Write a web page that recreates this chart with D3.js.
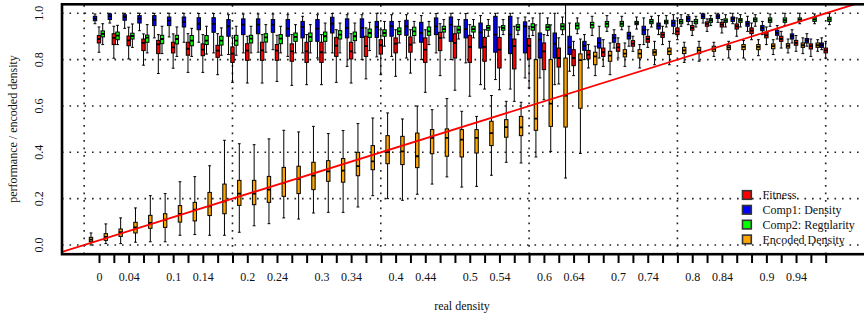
<!DOCTYPE html>
<html>
<head>
<meta charset="utf-8">
<script src="https://cdn.jsdelivr.net/npm/d3@7"></script>
<style>
body { margin: 0; background: #fff; }
svg text { font-family: "Liberation Serif", "Times New Roman", serif; font-size: 12px; fill: #111; }
</style>
</head>
<body>
<div id="chart"></div>
<script>
// real densities, one group of four boxes per value
var densities = [0, 0.02, 0.04, 0.06, 0.08, 0.1, 0.12, 0.14, 0.16, 0.18,
    0.2, 0.22, 0.24, 0.26, 0.28, 0.3, 0.32, 0.34, 0.36, 0.38,
    0.4, 0.42, 0.44, 0.46, 0.48, 0.5, 0.52, 0.54, 0.56, 0.58,
    0.6, 0.62, 0.64, 0.66, 0.68, 0.7, 0.72, 0.74, 0.76, 0.78,
    0.8, 0.82, 0.84, 0.86, 0.88, 0.9, 0.92, 0.94, 0.96, 0.98];

var xTickLabels = ["0", "0.04", "0.1", "0.14", "0.2", "0.24", "0.3", "0.34", "0.4", "0.44",
    "0.5", "0.54", "0.6", "0.64", "0.7", "0.74", "0.8", "0.84", "0.9", "0.94"];
var yTickValues = [0, 0.2, 0.4, 0.6, 0.8, 1.0];
var gridDensities = [-0.02, 0.18, 0.38, 0.58, 0.78, 0.98];

// each entry: [lower whisker, q1, median, q3, upper whisker]
var fitness = [
    [0.832, 0.872, 0.889, 0.904, 0.941], [0.806, 0.865, 0.894, 0.912, 0.944], [0.803, 0.860, 0.883, 0.902, 0.940],
    [0.776, 0.839, 0.872, 0.889, 0.911], [0.740, 0.826, 0.866, 0.883, 0.908], [0.763, 0.829, 0.853, 0.875, 0.911],
    [0.745, 0.819, 0.847, 0.875, 0.912], [0.745, 0.817, 0.843, 0.868, 0.908], [0.735, 0.810, 0.839, 0.862, 0.912],
    [0.702, 0.788, 0.826, 0.855, 0.894], [0.699, 0.797, 0.839, 0.869, 0.901], [0.699, 0.797, 0.840, 0.875, 0.908],
    [0.706, 0.797, 0.839, 0.865, 0.905], [0.689, 0.793, 0.836, 0.868, 0.908], [0.692, 0.788, 0.836, 0.875, 0.908],
    [0.692, 0.788, 0.832, 0.875, 0.908], [0.702, 0.814, 0.860, 0.896, 0.929], [0.699, 0.803, 0.836, 0.875, 0.912],
    [0.717, 0.814, 0.858, 0.901, 0.937], [0.735, 0.824, 0.862, 0.886, 0.929], [0.728, 0.829, 0.869, 0.894, 0.929],
    [0.742, 0.832, 0.865, 0.898, 0.929], [0.659, 0.788, 0.843, 0.894, 0.929], [0.731, 0.839, 0.894, 0.918, 0.955],
    [0.668, 0.807, 0.872, 0.912, 0.944], [0.642, 0.788, 0.855, 0.905, 0.951], [0.673, 0.793, 0.855, 0.896, 0.929],
    [0.670, 0.764, 0.843, 0.896, 0.941], [0.620, 0.760, 0.858, 0.889, 0.944], [0.678, 0.803, 0.860, 0.891, 0.944],
    [0.627, 0.757, 0.836, 0.872, 0.908], [0.695, 0.768, 0.807, 0.850, 0.894], [0.731, 0.774, 0.807, 0.843, 0.879],
    [0.764, 0.803, 0.822, 0.840, 0.865], [0.771, 0.814, 0.832, 0.850, 0.886], [0.807, 0.836, 0.853, 0.869, 0.894],
    [0.836, 0.858, 0.869, 0.882, 0.901], [0.853, 0.875, 0.889, 0.901, 0.929], [0.865, 0.896, 0.908, 0.918, 0.944],
    [0.886, 0.908, 0.922, 0.937, 0.980], [0.904, 0.927, 0.937, 0.947, 0.965], [0.922, 0.944, 0.954, 0.963, 0.976],
    [0.915, 0.941, 0.951, 0.961, 0.973], [0.901, 0.932, 0.944, 0.954, 0.980], [0.886, 0.912, 0.925, 0.937, 0.958],
    [0.865, 0.894, 0.905, 0.918, 0.941], [0.850, 0.879, 0.889, 0.901, 0.922], [0.836, 0.862, 0.872, 0.883, 0.904],
    [0.814, 0.846, 0.858, 0.868, 0.889], [0.807, 0.829, 0.840, 0.850, 0.879]
];

var compDensity = [
    [0.955, 0.968, 0.977, 0.987, 0.997], [0.958, 0.973, 0.987, 0.997, 1.0], [0.935, 0.970, 0.984, 0.994, 1.0],
    [0.925, 0.958, 0.977, 0.990, 1.0], [0.894, 0.947, 0.973, 0.990, 1.0], [0.898, 0.947, 0.968, 0.984, 1.0],
    [0.875, 0.941, 0.963, 0.984, 1.0], [0.875, 0.929, 0.955, 0.981, 0.999], [0.829, 0.918, 0.954, 0.981, 0.999],
    [0.822, 0.901, 0.944, 0.973, 0.994], [0.829, 0.908, 0.951, 0.976, 0.997], [0.832, 0.912, 0.951, 0.976, 0.997],
    [0.843, 0.918, 0.951, 0.973, 0.997], [0.814, 0.901, 0.934, 0.973, 0.994], [0.829, 0.894, 0.941, 0.965, 0.987],
    [0.807, 0.879, 0.934, 0.973, 0.994], [0.829, 0.915, 0.955, 0.983, 0.999], [0.771, 0.894, 0.937, 0.976, 0.994],
    [0.800, 0.896, 0.937, 0.976, 0.994], [0.812, 0.896, 0.941, 0.965, 1.0], [0.814, 0.901, 0.944, 0.965, 0.994],
    [0.807, 0.905, 0.944, 0.970, 0.994], [0.800, 0.875, 0.915, 0.961, 0.990], [0.829, 0.908, 0.944, 0.980, 0.999],
    [0.800, 0.879, 0.951, 0.984, 1.0], [0.786, 0.894, 0.932, 0.973, 0.999], [0.692, 0.850, 0.918, 0.958, 0.990],
    [0.714, 0.832, 0.908, 0.987, 1.0], [0.673, 0.826, 0.908, 0.987, 1.0], [0.721, 0.829, 0.944, 0.963, 0.984],
    [0.721, 0.807, 0.886, 0.915, 1.0], [0.692, 0.807, 0.869, 0.915, 1.0], [0.750, 0.822, 0.853, 0.901, 0.958],
    [0.800, 0.840, 0.860, 0.879, 0.908], [0.807, 0.850, 0.872, 0.894, 0.944], [0.850, 0.875, 0.894, 0.908, 0.929],
    [0.858, 0.889, 0.904, 0.918, 0.944], [0.865, 0.908, 0.927, 0.944, 0.980], [0.908, 0.932, 0.947, 0.958, 0.990],
    [0.912, 0.944, 0.958, 0.970, 0.994], [0.951, 0.965, 0.977, 0.987, 0.994], [0.958, 0.978, 0.987, 0.997, 1.0],
    [0.961, 0.978, 0.987, 0.994, 1.0], [0.955, 0.965, 0.976, 0.984, 1.0], [0.922, 0.944, 0.955, 0.965, 0.987],
    [0.908, 0.925, 0.937, 0.947, 0.965], [0.889, 0.905, 0.915, 0.927, 0.947], [0.872, 0.889, 0.901, 0.911, 0.929],
    [0.858, 0.872, 0.882, 0.891, 0.912], [0.843, 0.853, 0.862, 0.872, 0.894]
];

var compRegularity = [
    [0.865, 0.898, 0.911, 0.924, 0.955], [0.865, 0.886, 0.904, 0.919, 0.948], [0.853, 0.889, 0.902, 0.914, 0.954],
    [0.829, 0.875, 0.895, 0.906, 0.951], [0.826, 0.869, 0.889, 0.905, 0.944], [0.814, 0.868, 0.889, 0.905, 0.941],
    [0.814, 0.860, 0.882, 0.904, 0.935], [0.824, 0.865, 0.882, 0.904, 0.944], [0.819, 0.863, 0.882, 0.901, 0.937],
    [0.819, 0.862, 0.882, 0.905, 0.944], [0.829, 0.872, 0.891, 0.905, 0.944], [0.832, 0.876, 0.896, 0.912, 0.951],
    [0.829, 0.869, 0.891, 0.908, 0.944], [0.829, 0.879, 0.898, 0.915, 0.951], [0.829, 0.879, 0.898, 0.915, 0.951],
    [0.829, 0.879, 0.901, 0.919, 0.958], [0.829, 0.889, 0.908, 0.925, 0.958], [0.829, 0.882, 0.901, 0.919, 0.958],
    [0.839, 0.896, 0.915, 0.932, 0.961], [0.858, 0.901, 0.915, 0.929, 0.965], [0.872, 0.908, 0.922, 0.937, 0.965],
    [0.872, 0.904, 0.922, 0.940, 0.965], [0.865, 0.905, 0.922, 0.941, 0.965], [0.894, 0.919, 0.932, 0.944, 0.973],
    [0.889, 0.915, 0.929, 0.944, 0.973], [0.894, 0.919, 0.932, 0.944, 0.973], [0.901, 0.927, 0.937, 0.947, 0.973],
    [0.908, 0.927, 0.937, 0.947, 0.973], [0.908, 0.927, 0.940, 0.951, 0.980], [0.904, 0.927, 0.940, 0.955, 0.980],
    [0.904, 0.927, 0.940, 0.951, 0.980], [0.908, 0.929, 0.944, 0.955, 0.984], [0.912, 0.932, 0.947, 0.958, 0.980],
    [0.904, 0.937, 0.950, 0.961, 0.987], [0.922, 0.941, 0.955, 0.965, 0.990], [0.929, 0.944, 0.955, 0.965, 0.987],
    [0.932, 0.951, 0.958, 0.965, 0.984], [0.941, 0.955, 0.964, 0.973, 0.987], [0.941, 0.955, 0.963, 0.970, 0.990],
    [0.944, 0.955, 0.964, 0.973, 0.994], [0.941, 0.955, 0.964, 0.973, 0.987], [0.947, 0.961, 0.970, 0.977, 0.990],
    [0.941, 0.961, 0.968, 0.976, 0.994], [0.941, 0.961, 0.970, 0.977, 0.994], [0.944, 0.964, 0.973, 0.980, 0.994],
    [0.944, 0.961, 0.970, 0.980, 0.997], [0.947, 0.961, 0.970, 0.980, 1.0], [0.955, 0.965, 0.973, 0.980, 1.0],
    [0.955, 0.965, 0.974, 0.983, 0.997], [0.951, 0.965, 0.974, 0.983, 1.0]
];

var encodedDensity = [
    [0.000, 0.014, 0.023, 0.033, 0.052], [0.006, 0.020, 0.035, 0.049, 0.091], [0.006, 0.037, 0.055, 0.069, 0.117],
    [0.012, 0.052, 0.076, 0.098, 0.160], [0.014, 0.072, 0.095, 0.128, 0.213], [0.014, 0.076, 0.109, 0.135, 0.222],
    [0.042, 0.099, 0.134, 0.170, 0.273], [0.045, 0.104, 0.153, 0.184, 0.295], [0.042, 0.127, 0.167, 0.227, 0.342],
    [0.042, 0.135, 0.188, 0.263, 0.452], [0.055, 0.171, 0.222, 0.279, 0.437], [0.083, 0.174, 0.222, 0.279, 0.433],
    [0.092, 0.184, 0.239, 0.296, 0.458], [0.117, 0.210, 0.268, 0.335, 0.495], [0.112, 0.222, 0.285, 0.340, 0.488],
    [0.138, 0.239, 0.299, 0.357, 0.512], [0.141, 0.275, 0.318, 0.364, 0.481], [0.141, 0.271, 0.321, 0.373, 0.494],
    [0.164, 0.299, 0.340, 0.400, 0.524], [0.213, 0.325, 0.361, 0.429, 0.548], [0.200, 0.351, 0.401, 0.472, 0.570],
    [0.193, 0.347, 0.404, 0.469, 0.544], [0.219, 0.334, 0.383, 0.483, 0.600], [0.263, 0.394, 0.462, 0.498, 0.584],
    [0.294, 0.383, 0.462, 0.501, 0.632], [0.250, 0.380, 0.455, 0.498, 0.577], [0.253, 0.397, 0.462, 0.498, 0.555],
    [0.301, 0.429, 0.483, 0.534, 0.645], [0.357, 0.465, 0.509, 0.541, 0.620], [0.354, 0.472, 0.508, 0.555, 0.616],
    [0.380, 0.495, 0.545, 0.800, 0.950], [0.404, 0.512, 0.610, 0.800, 0.950], [0.289, 0.509, 0.645, 0.807, 1.100],
    [0.395, 0.590, 0.798, 0.825, 0.889], [0.731, 0.778, 0.814, 0.832, 0.858], [0.735, 0.793, 0.817, 0.836, 0.872],
    [0.771, 0.812, 0.826, 0.843, 0.872], [0.764, 0.807, 0.826, 0.843, 0.865], [0.778, 0.819, 0.832, 0.843, 0.879],
    [0.778, 0.822, 0.836, 0.850, 0.879], [0.788, 0.826, 0.840, 0.853, 0.875], [0.793, 0.826, 0.840, 0.853, 0.879],
    [0.814, 0.836, 0.847, 0.858, 0.875], [0.807, 0.843, 0.853, 0.862, 0.879], [0.807, 0.843, 0.855, 0.865, 0.883],
    [0.817, 0.843, 0.855, 0.865, 0.886], [0.822, 0.847, 0.858, 0.868, 0.886], [0.829, 0.850, 0.860, 0.869, 0.889],
    [0.826, 0.853, 0.862, 0.872, 0.894], [0.836, 0.853, 0.862, 0.872, 0.886]
];

var seriesNames = ["Fitness", "Comp1: Density", "Comp2: Regularity", "Encoded Density"];
var seriesColors = ["#ff0000", "#0000ff", "#00ff00", "#ffa500"];
var seriesStats = [fitness, compDensity, compRegularity, encodedDensity];
var seriesShift = [0, -0.0054, 0.005, -0.0108]; // offset inside a group, in density units

function init() {
    var w = 864;
    var h = 321;
    var plot = { left: 62, top: 4.3, right: 880, bottom: 254.2 };

    var svg = d3.select("#chart")
        .append("svg")
        .attr("width", w)
        .attr("height", h);

    var xScale = d3.scaleLinear().domain([0, 0.98]).range([99, 825.7]);
    var yScale = d3.scaleLinear().domain([0, 1]).range([245, 13.3]);

    svg.append("clipPath").attr("id", "plotClip")
        .append("rect")
        .attr("x", plot.left).attr("y", plot.top)
        .attr("width", plot.right - plot.left)
        .attr("height", plot.bottom - plot.top);

    var body = svg.append("g").attr("clip-path", "url(#plotClip)");

    // dotted grid
    body.selectAll(".hgrid").data(yTickValues).enter().append("line")
        .attr("x1", plot.left).attr("x2", plot.right)
        .attr("y1", function(d) { return yScale(d); })
        .attr("y2", function(d) { return yScale(d); })
        .attr("stroke", "#222").attr("stroke-width", 1.6)
        .attr("stroke-dasharray", "1.6,5.9");

    body.selectAll(".vgrid").data(gridDensities).enter().append("line")
        .attr("x1", function(d) { return xScale(d); })
        .attr("x2", function(d) { return xScale(d); })
        .attr("y1", plot.bottom).attr("y2", plot.top)
        .attr("stroke", "#222").attr("stroke-width", 1.6)
        .attr("stroke-dasharray", "1.6,5.9");

    // boxplots
    var halfBox = 1.7;
    var halfCap = 1.4;
    seriesStats.forEach(function(stats, s) {
        var g = body.append("g").attr("class", "series");
        var groups = g.selectAll("g").data(stats).enter().append("g")
            .attr("transform", function(d, i) {
                return "translate(" + xScale(densities[i] + seriesShift[s]) + ",0)";
            });

        groups.append("line")
            .attr("x1", 0).attr("x2", 0)
            .attr("y1", function(d) { return yScale(d[0]); })
            .attr("y2", function(d) { return yScale(d[1]); })
            .attr("stroke", "#000").attr("stroke-width", 1);
        groups.append("line")
            .attr("x1", 0).attr("x2", 0)
            .attr("y1", function(d) { return yScale(d[3]); })
            .attr("y2", function(d) { return yScale(d[4]); })
            .attr("stroke", "#000").attr("stroke-width", 1);
        [0, 4].forEach(function(k) {
            groups.append("line")
                .attr("x1", -halfCap).attr("x2", halfCap)
                .attr("y1", function(d) { return yScale(d[k]); })
                .attr("y2", function(d) { return yScale(d[k]); })
                .attr("stroke", "#000").attr("stroke-width", 1);
        });
        groups.append("rect")
            .attr("x", -halfBox)
            .attr("width", halfBox * 2)
            .attr("y", function(d) { return yScale(d[3]); })
            .attr("height", function(d) { return yScale(d[1]) - yScale(d[3]); })
            .attr("fill", seriesColors[s])
            .attr("stroke", "#000").attr("stroke-width", 1);
        groups.append("line")
            .attr("x1", -halfBox).attr("x2", halfBox)
            .attr("y1", function(d) { return yScale(d[2]); })
            .attr("y2", function(d) { return yScale(d[2]); })
            .attr("stroke", "#000").attr("stroke-width", 1.8);
    });

    // reference line: encoded = real density + 0.02
    var lineX = [xScale.invert(plot.left), xScale.invert(plot.right)];
    var line = d3.line()
        .x(function(d) { return xScale(d); })
        .y(function(d) { return yScale(d + 0.02); });
    body.append("path")
        .datum(lineX)
        .attr("d", line)
        .attr("fill", "none")
        .attr("stroke", "#ff0000")
        .attr("stroke-width", 1.8);

    // frame
    svg.append("rect")
        .attr("x", plot.left).attr("y", plot.top)
        .attr("width", plot.right - plot.left)
        .attr("height", plot.bottom - plot.top)
        .attr("fill", "none")
        .attr("stroke", "#000").attr("stroke-width", 2.6);

    // x axis
    var labelAt = {};
    xTickLabels.forEach(function(t) { labelAt[(+t).toFixed(2)] = t; });
    var xAxis = d3.axisBottom(xScale)
        .tickValues(densities)
        .tickSizeOuter(0)
        .tickSize(8)
        .tickFormat(function(d) { return labelAt[d.toFixed(2)] || ""; });
    var gx = svg.append("g")
        .attr("transform", "translate(0," + (plot.bottom + 0.8) + ")")
        .call(xAxis);
    gx.select(".domain").remove();
    gx.selectAll(".tick line").attr("stroke", "#000").attr("stroke-width", 2);
    gx.selectAll(".tick text")
        .attr("y", 26).attr("dy", null)
        .attr("font-family", null).attr("font-size", null)
        .style("fill", "#111");

    // y axis labels (parallel to the axis)
    svg.selectAll(".ylab").data(yTickValues).enter().append("text")
        .attr("transform", function(d) { return "translate(43," + yScale(d) + ") rotate(-90)"; })
        .attr("text-anchor", "middle")
        .text(function(d) { return d3.format(".1f")(d); });

    // axis titles
    svg.append("text")
        .attr("x", 462).attr("y", 309.5)
        .attr("text-anchor", "middle")
        .text("real density");
    svg.append("text")
        .attr("transform", "translate(16.5,129) rotate(-90)")
        .attr("text-anchor", "middle")
        .text("performance / encoded density");

    // legend
    var legend = svg.append("g").attr("transform", "translate(742,195)");
    var rows = legend.selectAll("g").data(seriesNames).enter().append("g")
        .attr("transform", function(d, i) { return "translate(0," + (i * 14.8) + ")"; });
    rows.append("rect")
        .attr("x", 0.5).attr("y", -4.3)
        .attr("width", 8.8).attr("height", 8.6)
        .attr("fill", function(d, i) { return seriesColors[i]; })
        .attr("stroke", "#333").attr("stroke-width", 1.6);
    rows.append("text")
        .attr("x", 20.5).attr("y", 4.3)
        .text(function(d) { return d; });
}
window.onload = init;
</script>
</body>
</html>
